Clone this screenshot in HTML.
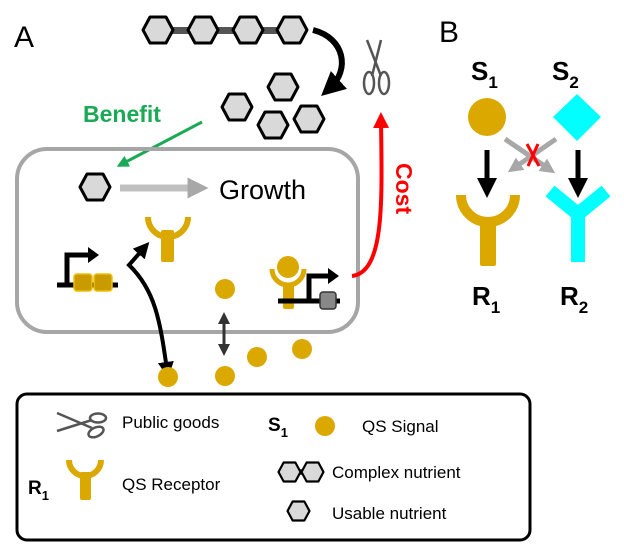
<!DOCTYPE html>
<html><head><meta charset="utf-8"><style>
html,body{margin:0;padding:0;background:#fff;}
svg{display:block;font-family:"Liberation Sans",Arial,sans-serif;}
</style></head><body>
<svg width="624" height="552" viewBox="0 0 624 552">
<defs>
<marker id="ab" markerWidth="4" markerHeight="4" refX="2" refY="2" orient="auto" markerUnits="strokeWidth"><path d="M0,0 L4,2 L0,4 Z" fill="#000"/></marker>
<marker id="ag" markerWidth="4" markerHeight="4" refX="2" refY="2" orient="auto" markerUnits="strokeWidth"><path d="M0,0 L4,2 L0,4 Z" fill="#1aaa55"/></marker>
<marker id="ar" markerWidth="4" markerHeight="4" refX="2" refY="2" orient="auto" markerUnits="strokeWidth"><path d="M0,0 L4,2 L0,4 Z" fill="#ff0000"/></marker>
<marker id="agr" markerWidth="3" markerHeight="3" refX="1.5" refY="1.5" orient="auto" markerUnits="strokeWidth"><path d="M0,0 L3,1.5 L0,3 Z" fill="#a8a8a8"/></marker>
<marker id="ad" markerWidth="4" markerHeight="4" refX="2" refY="2" orient="auto" markerUnits="strokeWidth"><path d="M0,0 L4,2 L0,4 Z" fill="#333"/></marker>
<marker id="ads" markerWidth="4" markerHeight="4" refX="2" refY="2" orient="auto-start-reverse" markerUnits="strokeWidth"><path d="M0,0 L4,2 L0,4 Z" fill="#333"/></marker>
<marker id="abs" markerWidth="4" markerHeight="4" refX="2" refY="2" orient="auto-start-reverse" markerUnits="strokeWidth"><path d="M0,0 L4,2 L0,4 Z" fill="#000"/></marker>
<symbol id="hex" viewBox="-17 -15 34 30" overflow="visible"><polygon points="-15,0 -8,-13 8,-13 15,0 8,13 -8,13" fill="#d9d9d9" stroke="#000" stroke-width="3" stroke-linejoin="round"/></symbol>
</defs>

<!-- Panel A -->
<text x="14" y="47" font-size="30">A</text>

<g>
<rect x="158" y="27" width="134" height="7" fill="#555"/>
<use href="#hex" x="141" y="15" width="34" height="30"/>
<use href="#hex" x="186" y="15" width="34" height="30"/>
<use href="#hex" x="231" y="15" width="34" height="30"/>
<use href="#hex" x="275" y="15" width="34" height="30"/>
</g>
<path d="M313,30 C345,38 350,70 330,88" fill="none" stroke="#000" stroke-width="6" marker-end="url(#ab)"/>
<g fill="none" stroke="#555" stroke-width="2.5">
<path d="M367,40 L381,76"/><path d="M381,40 L372,76"/>
<ellipse cx="369" cy="83" rx="5" ry="11"/><ellipse cx="384" cy="83" rx="5" ry="11"/>
</g>
<g>
<use href="#hex" x="266" y="72" width="34" height="30"/>
<use href="#hex" x="220" y="92" width="34" height="30"/>
<use href="#hex" x="256" y="110" width="34" height="30"/>
<use href="#hex" x="292" y="104" width="34" height="30"/>
</g>
<text x="83" y="122" font-size="23" font-weight="bold" fill="#1aaa55">Benefit</text>
<line x1="202" y1="122" x2="122" y2="164" stroke="#1aaa55" stroke-width="3" marker-end="url(#ag)"/>

<rect x="17" y="149" width="341" height="183" rx="30" fill="none" stroke="#a6a6a6" stroke-width="4"/>

<use href="#hex" x="78" y="172" width="34" height="30"/>
<line x1="120" y1="188" x2="198" y2="188" stroke="#c0c0c0" stroke-width="7" marker-end="url(#agr)"/>
<text x="219" y="199" font-size="27">Growth</text>

<g fill="#dba800">
<path d="M148,217 A20,20 0 0 0 188,217" fill="none" stroke="#dba800" stroke-width="6"/>
<rect x="161" y="230" width="13" height="32" rx="2"/>
</g>

<g>
<line x1="57" y1="285" x2="118" y2="285" stroke="#000" stroke-width="5"/>
<path d="M67,285 V255 H90" fill="none" stroke="#000" stroke-width="5"/>
<path d="M88,247 L99,255 L88,263 Z" fill="#000"/>
<rect x="74" y="274" width="18" height="17" rx="3" fill="#c99b00" stroke="#f0c000" stroke-width="1.5"/>
<rect x="94" y="274" width="18" height="17" rx="3" fill="#c99b00" stroke="#f0c000" stroke-width="1.5"/>
</g>
<path d="M167,370 C160,320 155,290 129,265 L144,248" fill="none" stroke="#000" stroke-width="4" marker-end="url(#ab)" marker-start="url(#abs)"/>

<g>
<circle cx="288" cy="267" r="11" fill="#dba800"/>
<path d="M272,269 A16,16 0 0 0 304,269" fill="none" stroke="#dba800" stroke-width="5"/>
<rect x="283" y="283" width="11" height="26" rx="2" fill="#dba800"/>
<line x1="278" y1="301" x2="340" y2="301" stroke="#000" stroke-width="5"/>
<path d="M309,301 V276 H330" fill="none" stroke="#000" stroke-width="5"/>
<path d="M328,268 L339,276 L328,284 Z" fill="#000"/>
<rect x="320" y="292" width="16" height="17" rx="3" fill="#888" stroke="#333" stroke-width="1.5"/>
</g>
<path d="M352,276 C385,272 382,200 381,120" fill="none" stroke="#ff0000" stroke-width="4" marker-end="url(#ar)"/>
<text transform="translate(396,163) rotate(90)" font-size="23" font-weight="bold" fill="#ff0000">Cost</text>

<line x1="224" y1="318" x2="224" y2="350" stroke="#333" stroke-width="3" marker-start="url(#ads)" marker-end="url(#ad)"/>
<g fill="#dba800">
<circle cx="225" cy="289" r="10"/><circle cx="225" cy="376" r="10"/>
<circle cx="257" cy="357" r="10"/><circle cx="302" cy="349" r="10"/>
<circle cx="168" cy="377" r="10"/>
</g>

<!-- Panel B -->
<text x="439" y="42" font-size="30">B</text>
<text x="471" y="80" font-size="26" font-weight="bold">S<tspan font-size="17" dy="8">1</tspan></text>
<text x="552" y="80" font-size="26" font-weight="bold">S<tspan font-size="17" dy="8">2</tspan></text>
<circle cx="487" cy="117" r="19" fill="#dba800"/>
<polygon points="577,94 601,117 577,141 553,117" fill="#00ffff"/>
<line x1="487" y1="150" x2="487" y2="188" stroke="#000" stroke-width="5" marker-end="url(#ab)"/>
<line x1="578" y1="150" x2="578" y2="188" stroke="#000" stroke-width="5" marker-end="url(#ab)"/>
<line x1="556" y1="139" x2="514" y2="168" stroke="#a8a8a8" stroke-width="5" marker-end="url(#agr)"/>
<line x1="505" y1="139" x2="549" y2="169" stroke="#a8a8a8" stroke-width="5" marker-end="url(#agr)"/>
<g stroke="#ff0000" stroke-width="3"><line x1="527" y1="144" x2="539" y2="166"/><line x1="538" y1="144" x2="528" y2="166"/></g>
<g>
<path d="M461,195 A27,27 0 0 0 515,195" fill="none" stroke="#dba800" stroke-width="10"/>
<rect x="480" y="218" width="16" height="48" rx="2" fill="#dba800"/>
</g>
<g stroke="#00ffff" stroke-width="14" stroke-linejoin="round">
<line x1="550" y1="191" x2="578" y2="214"/><line x1="606" y1="191" x2="578" y2="214"/>
<line x1="578" y1="210" x2="578" y2="262"/>
</g>
<text x="472" y="305" font-size="26" font-weight="bold">R<tspan font-size="17" dy="8">1</tspan></text>
<text x="560" y="305" font-size="26" font-weight="bold">R<tspan font-size="17" dy="8">2</tspan></text>

<!-- Legend -->
<g>
<rect x="17" y="394" width="513" height="146" rx="10" fill="none" stroke="#000" stroke-width="3"/>
<g fill="none" stroke="#555" stroke-width="2.5">
<path d="M57,413 L92,428"/><path d="M57,431 L92,420"/>
<ellipse cx="98" cy="418" rx="8" ry="4.5"/><ellipse cx="96" cy="432" rx="8" ry="4.5" transform="rotate(-25 96 432)"/>
</g>
<text x="122" y="428" font-size="17">Public goods</text>
<text x="268" y="431" font-size="19" font-weight="bold">S<tspan font-size="13" dy="6">1</tspan></text>
<circle cx="325" cy="426" r="10" fill="#dba800"/>
<text x="362" y="432" font-size="17">QS Signal</text>
<text x="28" y="494" font-size="19" font-weight="bold">R<tspan font-size="13" dy="6">1</tspan></text>
<g>
<path d="M69,460 A16,16 0 0 0 101,460" fill="none" stroke="#dba800" stroke-width="6"/>
<rect x="80" y="472" width="11" height="28" rx="2" fill="#dba800"/>
</g>
<text x="122" y="490" font-size="17">QS Receptor</text>
<g>
<rect x="288" y="469" width="22" height="6" fill="#555"/>
<use href="#hex" x="277" y="461" width="25" height="22"/>
<use href="#hex" x="300" y="461" width="25" height="22"/>
</g>
<text x="332" y="478" font-size="17">Complex nutrient</text>
<use href="#hex" x="286" y="500" width="25" height="22"/>
<text x="332" y="519" font-size="17">Usable nutrient</text>
</g>
</svg>
</body></html>
